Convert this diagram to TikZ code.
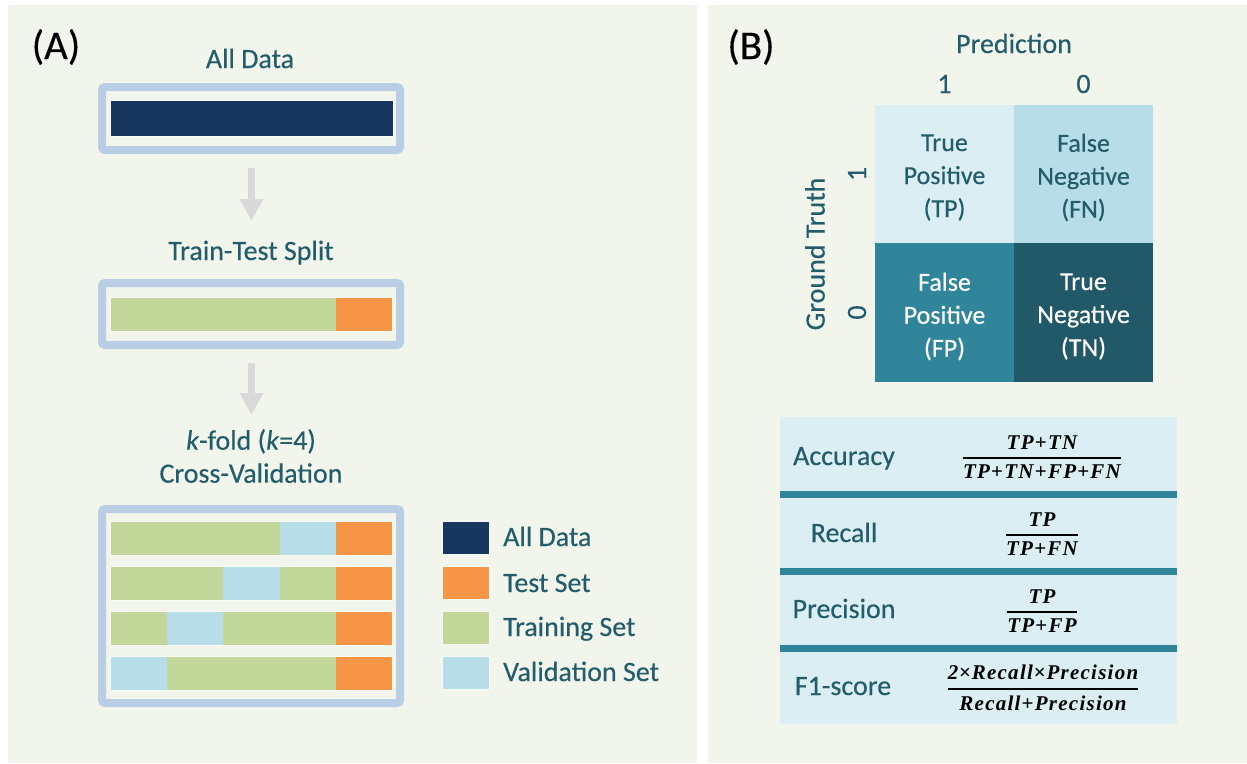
\documentclass[tikz,border=0pt]{standalone}
\usepackage{amsmath}
\usepackage[no-math]{fontspec}
\setmainfont{Carlito}[FakeBold=0.35]
\newfontfamily\fmfont{Liberation Serif}[LetterSpace=6]
\newcommand\fmt{\fmfont\bfseries\itshape}
\newcommand\fplus{\kern1.2pt{\upshape+}\kern1.2pt}
\newcommand\ftimes{\kern0.8pt{\upshape×}\kern0.8pt}
\usetikzlibrary{arrows.meta}
\definecolor{panelbg}{RGB}{242,245,236}
\definecolor{frameblue}{RGB}{185,205,228}
\definecolor{navy}{RGB}{23,55,94}
\definecolor{trgreen}{RGB}{196,215,155}
\definecolor{tsorange}{RGB}{247,150,70}
\definecolor{valblue}{RGB}{183,222,232}
\definecolor{arrowgray}{RGB}{217,217,217}
\definecolor{tealtext}{RGB}{35,92,106}
\definecolor{tpcol}{RGB}{218,238,243}
\definecolor{fncol}{RGB}{183,222,232}
\definecolor{fpcol}{RGB}{49,133,155}
\definecolor{tncol}{RGB}{33,89,104}
\begin{document}
\begin{tikzpicture}[x=1pt,y=-1pt,
  frame/.style={draw=frameblue, line width=8pt, rounded corners=3pt, fill=panelbg, inner sep=0pt},
  seg/.style={draw=white!55!panelbg, line width=0.6pt},
  title/.style={text=tealtext, font=\fontsize{28}{33}\selectfont, anchor=base, inner sep=0pt},
  panellabel/.style={text=black, font=\fontsize{41}{44}\selectfont, inner sep=0pt},
  flowarrow/.style={draw=arrowgray, line width=7pt, -{Triangle[width=22pt,length=22pt]}},
  legsq/.style={minimum width=47pt, minimum height=33pt, inner sep=0pt, draw=white!50!panelbg, line width=0.6pt},
  cell/.style={minimum width=139pt, minimum height=138.5pt, inner sep=0pt},
  celltext/.style={inner sep=0pt, align=center, font=\fontsize{26}{33}\selectfont},
  formula/.style={text=black, font=\fontsize{21}{24}\selectfont, inner sep=0pt},
  sep/.style={draw=fpcol, line width=7pt}
]
\useasboundingbox (0,0) rectangle (1247,763);
\fill[white] (0,0) rectangle (1247,763);
% panels
\fill[panelbg] (8,5) rectangle (697,763);
\fill[panelbg] (708,5) rectangle (1247,763);

% ---------- Panel A ----------
\node[panellabel] (labA) at (56,47) {(A)};
\node[title] (t1) at (250,68) {All Data};
\node[frame, minimum width=298pt, minimum height=63pt] (box1) at (251,118.5) {};
\fill[navy] (110,100) rectangle (393,136);
\draw[seg] (110,100) rectangle (393,136);

\coordinate (a1s) at (251.5,168);
\coordinate (a1e) at (251.5,221);
\draw[flowarrow] (a1s) -- (a1e);

\node[title] (t2) at (251,260) {Train-Test Split};
\node[frame, minimum width=298pt, minimum height=62pt] (box2) at (251,314) {};
\fill[trgreen] (110,297) rectangle (336,331);
\fill[tsorange] (336,297) rectangle (392,331);
\draw[seg] (110,297) rectangle (392,331);

\coordinate (a2s) at (251.5,363);
\coordinate (a2e) at (251.5,415);
\draw[flowarrow] (a2s) -- (a2e);

\node[title, align=center, anchor=north] (t3) at (251,429) {\textit{k}-fold (\textit{k}=4)\\Cross-Validation};
\node[frame, minimum width=298pt, minimum height=194pt] (box3) at (251,606) {};
% row 1
\fill[trgreen] (110,521) rectangle (280,555);
\fill[valblue] (280,521) rectangle (336,555);
\fill[tsorange] (336,521) rectangle (392,555);
\draw[seg] (110,521) rectangle (392,555);
% row 2
\fill[trgreen] (110,566) rectangle (223,600);
\fill[valblue] (223,566) rectangle (280,600);
\fill[trgreen] (280,566) rectangle (336,600);
\fill[tsorange] (336,566) rectangle (392,600);
\draw[seg] (110,566) rectangle (392,600);
% row 3
\fill[trgreen] (110,611) rectangle (167,645);
\fill[valblue] (167,611) rectangle (223,645);
\fill[trgreen] (223,611) rectangle (336,645);
\fill[tsorange] (336,611) rectangle (392,645);
\draw[seg] (110,611) rectangle (392,645);
% row 4
\fill[valblue] (110,656) rectangle (167,690);
\fill[trgreen] (167,656) rectangle (336,690);
\fill[tsorange] (336,656) rectangle (392,690);
\draw[seg] (110,656) rectangle (392,690);

% legend
\node[legsq, fill=navy] (l1) at (465.5,537.5) {};
\node[legsq, fill=tsorange] (l2) at (465.5,582.5) {};
\node[legsq, fill=trgreen] (l3) at (465.5,627.5) {};
\node[legsq, fill=valblue] (l4) at (465.5,672.5) {};
\node[title, anchor=base west] (lt1) at (503,546) {All Data};
\node[title, anchor=base west] (lt2) at (503,592) {Test Set};
\node[title, anchor=base west] (lt3) at (503,636) {Training Set};
\node[title, anchor=base west] (lt4) at (503,681) {Validation Set};

% ---------- Panel B ----------
\node[panellabel] (labB) at (751,47) {(B)};
\node[title] (pred) at (1014,53) {Prediction};
\node[title] (p1) at (944.5,93) {1};
\node[title] (p0) at (1083.5,93) {0};
\node[title, anchor=center, rotate=90] (gt) at (815,254) {Ground Truth};
\node[title, anchor=center, rotate=90] (g1) at (857,174) {1};
\node[title, anchor=center, rotate=90] (g0) at (857,312.5) {0};

\node[cell, fill=tpcol] (tp) at (944.5,174) {};
\node[cell, fill=fncol] (fn) at (1083.5,174) {};
\node[cell, fill=fpcol] (fp) at (944.5,312.5) {};
\node[cell, fill=tncol] (tn) at (1083.5,312.5) {};
\node[celltext, text=tealtext] (tpt) at (944.5,177.5) {True\\Positive\\(TP)};
\node[celltext, text=tealtext] (fnt) at (1083.5,177.5) {False\\Negative\\(FN)};
\node[celltext, text=white] (fpt) at (944.5,316.5) {False\\Positive\\(FP)};
\node[celltext, text=white] (tnt) at (1083.5,316.5) {True\\Negative\\(TN)};

% metrics table
\fill[tpcol] (780,417) rectangle (1177,724);
\draw[sep] (780,494) -- (1177,494);
\draw[sep] (780,571) -- (1177,571);
\draw[sep] (780,648) -- (1177,648);

\node[title] (m1) at (844,465) {Accuracy};
\node[title] (m2) at (844,542) {Recall};
\node[title] (m3) at (844,618) {Precision};
\node[title] (m4) at (843,695) {F1-score};

\node[formula] (f1) at (1042,457) {$\genfrac{}{}{2pt}{0}{\mbox{\fmt TP\fplus TN}}{\mbox{\fmt TP\fplus TN\fplus FP\fplus FN}}$};
\node[formula] (f2) at (1042,534) {$\genfrac{}{}{2pt}{0}{\mbox{\fmt TP}}{\mbox{\fmt TP\fplus FN}}$};
\node[formula] (f3) at (1042,611) {$\genfrac{}{}{2pt}{0}{\mbox{\fmt TP}}{\mbox{\fmt TP\fplus FP}}$};
\node[formula] (f4) at (1043,688) {$\genfrac{}{}{2pt}{0}{\mbox{\fmt 2\ftimes Recall\ftimes Precision}}{\mbox{\fmt Recall\fplus Precision}}$};
\end{tikzpicture}
\end{document}
